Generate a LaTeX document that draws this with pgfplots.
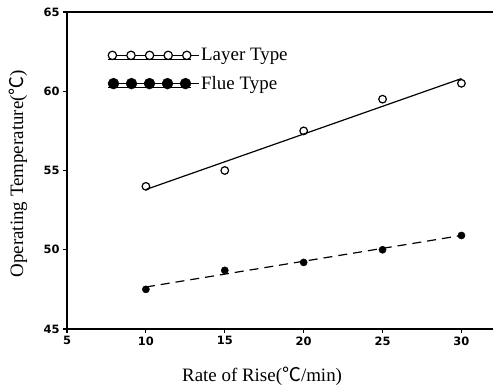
\documentclass[border=0pt]{standalone}
\usepackage{pgfplots}
\pgfplotsset{compat=1.18}
\usepackage{fontspec}
\setmainfont{Liberation Serif}
\newfontfamily\cjk{Noto Sans CJK SC}
\newfontfamily\tickfont{DejaVu Sans}
\begin{document}
\begin{tikzpicture}
\useasboundingbox (-67bp,-60bp) rectangle (426bp,329bp);
\begin{axis}[
  at={(0,0)}, anchor=south west,
  width=426bp, height=317bp, scale only axis,
  xmin=5, xmax=32, ymin=45, ymax=65,
  axis x line=box, axis y line=left,
  axis line style={line width=1.4bp, -},
  xtick={5,10,...,30}, ytick={45,50,...,65},
  tick pos=left, tick align=outside, major tick length=4bp,
  tick style={line width=1.2bp, black},
  tick label style={font=\tickfont\bfseries\fontsize{11.5}{11.5}\selectfont},
  /pgf/number format/assume math mode=true,
  xlabel={Rate of Rise({\cjk ℃}/min)},
  ylabel={Operating Temperature({\cjk ℃})},
  label style={font=\fontsize{19}{23}\selectfont},
  xlabel style={at={(axis description cs:0.458,-0.148)}, anchor=center},
  ylabel style={at={(axis description cs:-0.115,0.49)}, anchor=center},
  legend style={at={(axis description cs:0.094,0.892)}, anchor=north west,
    draw=none, fill=none, font=\fontsize{19}{23}\selectfont, row sep=10bp, inner sep=0pt},
  legend cell align=left,
]
\addplot[only marks, mark=o, mark size=3.8bp, mark options={line width=1.2bp, fill=white},
  legend image code/.code={
    \path (0bp,0bp) -- (91bp,0bp);
    \draw[line width=1bp] (0bp,-3.8bp) -- (83bp,-3.8bp);
    \foreach \i in {0,1,2,3,4} {\draw[line width=1.2bp, fill=white] (4.4bp+\i*18.6bp,0bp) circle (4.2bp);}
  }] coordinates {(10,54) (15,55) (20,57.5) (25,59.5) (30,60.5)};
\addlegendentry{Layer Type}
\addplot[only marks, mark=*, mark size=3.6bp,
  legend image code/.code={
    \path (0bp,0bp) -- (91bp,0bp);
    \draw[line width=1.5bp] (0bp,-4bp) -- (83bp,-4bp);
    \foreach \i in {0,1,2,3,4} {\fill (5.5bp+\i*18bp,0bp) circle (5.5bp);}
  }] coordinates {(10,47.5) (15,48.7) (20,49.2) (25,50) (30,50.9)};
\addlegendentry{Flue Type}
\addplot[line width=1.2bp, forget plot] coordinates {(10,53.8) (30,60.8)};
\addplot[line width=1.2bp, dash pattern=on 9bp off 6bp, forget plot] coordinates {(10,47.65) (30,50.9)};
\end{axis}
\end{tikzpicture}
\end{document}
